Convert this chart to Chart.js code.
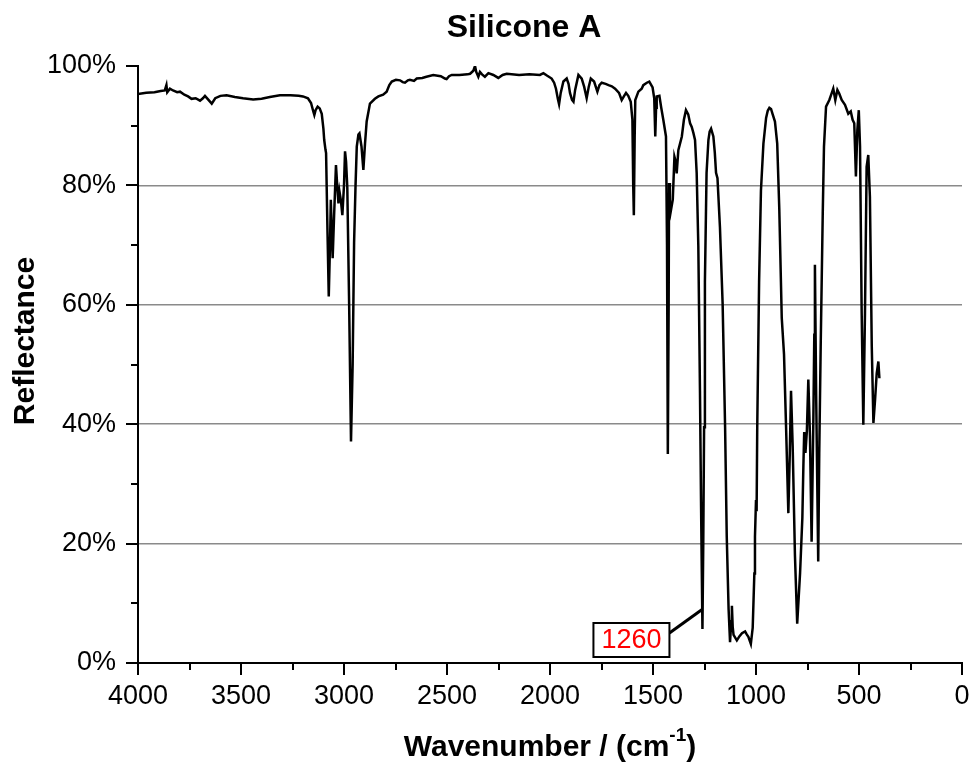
<!DOCTYPE html>
<html>
<head>
    <meta charset="UTF-8">
    <title>Silicone A</title>
    <script src="https://cdn.jsdelivr.net/npm/chart.js"></script>
    <style>
        body {
            margin: 0;
            padding: 0;
            background: #fff;
        }
        .container {
            width: 973px;
            height: 769px;
            position: relative;
        }
    </style>
</head>
<body>
    <div class="container">
        <canvas id="spectrum"></canvas>
    </div>

    <script>
        // Spectrum (wavenumber in cm-1, reflectance in %)
        const wavenumbers = [
            4000, 3960, 3920, 3890, 3870, 3862, 3858, 3845, 3830, 3810, 3796, 3775, 3757, 3740, 3720,
            3699, 3685, 3675, 3660, 3642, 3625, 3600, 3570, 3530, 3490, 3441, 3400, 3360, 3311, 3260,
            3220, 3199, 3175, 3160, 3150, 3144, 3138, 3128, 3118, 3108, 3100, 3096, 3090, 3087, 3080,
            3074, 3068, 3064, 3060, 3055, 3048, 3039, 3033, 3027, 3022, 3015, 3008, 3000, 2995, 2990,
            2984, 2975, 2966, 2958, 2951, 2944, 2938, 2930, 2925, 2915, 2906, 2898, 2890, 2874, 2850,
            2833, 2810, 2793, 2780, 2768, 2748, 2728, 2715, 2704, 2690, 2680, 2660, 2647, 2620, 2600,
            2567, 2530, 2510, 2502, 2490, 2477, 2440, 2400, 2388, 2372, 2364, 2358, 2348, 2340, 2330,
            2316, 2299, 2275, 2251, 2230, 2210, 2150, 2100, 2049, 2032, 2015, 1992, 1980, 1971, 1962,
            1956, 1948, 1935, 1919, 1910, 1903, 1893, 1886, 1878, 1862, 1846, 1834, 1822, 1812, 1802,
            1786, 1770, 1760, 1749, 1730, 1716, 1700, 1684, 1665, 1652, 1640, 1631, 1620, 1608, 1600,
            1596, 1593, 1589, 1586, 1571, 1555, 1547, 1530, 1518, 1502, 1494, 1489, 1485, 1482, 1469,
            1460, 1450, 1437, 1432, 1428, 1424, 1422, 1418, 1414, 1404, 1396, 1390, 1385, 1377, 1360,
            1350, 1340, 1329, 1320, 1312, 1304, 1296, 1288, 1280, 1272, 1267, 1260, 1256, 1252, 1248,
            1240, 1231, 1225, 1218, 1207, 1200, 1194, 1187, 1175, 1162, 1150, 1142, 1133, 1126, 1120,
            1117, 1113, 1109, 1093, 1080, 1068, 1053, 1045, 1037, 1025, 1016, 1008, 1005, 1000, 997,
            994, 985, 976, 964, 951, 943, 935, 927, 919, 908, 897, 887, 875, 864, 854,
            843, 836, 830, 822, 811, 800, 786, 775, 770, 766, 760, 753, 746, 738, 730,
            722, 717, 714, 708, 698, 693, 686, 676, 670, 660, 644, 635, 625, 615, 605,
            596, 584, 568, 552, 540, 531, 523, 515, 508, 501, 495, 487, 479, 471, 463,
            455, 447, 438, 430, 422, 414, 406, 401
        ];
        const reflectance = [
            95.3, 95.5, 95.6, 95.8, 95.9, 96.8, 95.6, 96.2, 95.9, 95.6, 95.7, 95.2, 94.9, 94.5, 94.6,
            94.2, 94.6, 95.0, 94.4, 93.7, 94.6, 95.0, 95.1, 94.8, 94.6, 94.4, 94.5, 94.8, 95.1, 95.1,
            95.0, 94.9, 94.6, 93.8, 92.5, 91.8, 92.6, 93.2, 92.9, 92.0, 89.5, 87.6, 86.0, 85.4, 72.0,
            61.4, 70.0, 77.6, 73.0, 67.8, 75.0, 83.4, 80.0, 77.0, 79.0, 77.5, 75.0, 80.0, 85.7, 84.0,
            79.7, 60.0, 37.1, 50.0, 70.4, 80.0, 86.5, 88.5, 88.7, 86.5, 82.6, 87.0, 90.7, 93.7, 94.5,
            94.9, 95.2, 95.7, 96.8, 97.4, 97.7, 97.6, 97.3, 97.2, 97.6, 97.7, 97.5, 97.9, 98.0, 98.2,
            98.5, 98.3, 97.9, 97.8, 98.3, 98.5, 98.5, 98.6, 98.7, 99.2, 100.0, 99.0, 98.2, 99.0, 98.6,
            98.2, 98.8, 98.5, 98.0, 98.5, 98.7, 98.5, 98.6, 98.5, 98.8, 98.4, 97.9, 97.2, 96.2, 94.5,
            93.6, 95.5, 97.4, 97.9, 97.0, 95.5, 94.3, 94.0, 96.0, 98.5, 97.9, 96.5, 94.6, 96.5, 97.9,
            97.4, 95.7, 96.8, 97.2, 97.0, 96.8, 96.6, 96.2, 95.5, 94.3, 95.0, 95.5, 95.0, 94.0, 91.0,
            80.0, 75.0, 88.0, 94.3, 95.7, 96.2, 96.8, 97.2, 97.4, 96.4, 94.6, 88.2, 93.0, 94.9, 95.0,
            93.0, 91.0, 88.2, 70.0, 35.0, 60.0, 80.4, 77.0, 75.6, 77.6, 84.8, 84.0, 82.0, 85.9, 88.2,
            91.0, 92.6, 91.9, 90.4, 89.8, 88.8, 87.6, 82.1, 69.9, 45.6, 27.3, 5.7, 20.0, 39.5, 63.8,
            82.1, 87.6, 89.0, 89.5, 88.2, 85.5, 82.1, 81.2, 73.0, 60.2, 39.5, 21.2, 9.0, 3.5, 7.0,
            9.6, 6.0, 4.7, 3.8, 4.5, 5.0, 5.3, 4.8, 4.4, 3.2, 5.9, 15.0, 21.2, 27.3, 25.4,
            39.5, 63.8, 79.1, 87.0, 91.3, 92.5, 93.0, 92.8, 91.9, 90.7, 87.0, 76.1, 57.8, 51.7, 39.5,
            25.1, 35.0, 45.6, 36.4, 18.1, 6.6, 15.1, 24.3, 33.0, 38.7, 35.2, 38.9, 47.5, 38.0, 20.3,
            39.5, 55.0, 66.7, 45.0, 17.0, 35.0, 53.0, 75.3, 86.5, 93.2, 94.3, 95.2, 96.2, 94.3, 96.0,
            95.4, 94.3, 93.5, 92.0, 92.4, 91.0, 90.4, 81.5, 89.3, 92.6, 86.5, 58.6, 39.9, 58.6, 83.1,
            85.1, 78.1, 53.0, 40.2, 44.1, 48.5, 50.5, 47.7
        ];
        // marked peak and where its call-out points on the curve
        const peakWavenumbers = [1260];
        const peakPointerValues = [9];

        const points = wavenumbers.map((w, i) => ({ x: w, y: reflectance[i] }));

        const FONT = '"Liberation Sans", Arial, Helvetica, sans-serif';

        // outward major/minor tick marks, axis titles, title and call-out
        const decorPlugin = {
            id: 'decor',
            afterDraw(chart) {
                const c = chart.ctx;
                const xs = chart.scales.x;
                const ys = chart.scales.y;
                const area = chart.chartArea;
                c.save();
                c.strokeStyle = '#000';
                c.lineWidth = 2;
                c.beginPath();
                for (let v = 0; v <= 4000; v += 250) {
                    const px = Math.round(xs.getPixelForValue(v));
                    const len = v % 500 === 0 ? 12 : 7;
                    c.moveTo(px, area.bottom);
                    c.lineTo(px, area.bottom + len);
                }
                for (let v = 0; v <= 100; v += 10) {
                    const py = Math.round(ys.getPixelForValue(v));
                    const len = v % 20 === 0 ? 12 : 7;
                    c.moveTo(area.left, py);
                    c.lineTo(area.left - len, py);
                }
                c.stroke();

                // title
                c.fillStyle = '#000';
                c.textAlign = 'center';
                c.textBaseline = 'middle';
                c.font = 'bold 32px ' + FONT;
                c.fillText('Silicone A', 524, 28);

                // y title
                c.save();
                c.translate(26, 341);
                c.rotate(-Math.PI / 2);
                c.font = 'bold 30px ' + FONT;
                c.fillText('Reflectance', 0, 0);
                c.restore();

                // x title with superscript
                const main = 'Wavenumber / (cm';
                const sup = '-1';
                const end = ')';
                c.font = 'bold 30px ' + FONT;
                const wMain = c.measureText(main).width;
                const wEnd = c.measureText(end).width;
                c.font = 'bold 19px ' + FONT;
                const wSup = c.measureText(sup).width;
                let tx = 550 - (wMain + wSup + wEnd) / 2;
                c.textAlign = 'left';
                c.font = 'bold 30px ' + FONT;
                c.fillText(main, tx, 748);
                tx += wMain;
                c.font = 'bold 19px ' + FONT;
                c.fillText(sup, tx, 736);
                tx += wSup;
                c.font = 'bold 30px ' + FONT;
                c.fillText(end, tx, 748);

                // peak call-out
                peakWavenumbers.forEach((w, i) => {
                    const px = xs.getPixelForValue(w);
                    const py = ys.getPixelForValue(peakPointerValues[i]);
                    const bx = px - 33 - 76;
                    const by = 623;
                    c.lineWidth = 3;
                    c.beginPath();
                    c.moveTo(px, py);
                    c.lineTo(bx + 76, by + 10);
                    c.stroke();
                    c.lineWidth = 2;
                    c.fillStyle = '#fff';
                    c.fillRect(bx, by, 76, 34);
                    c.strokeRect(bx, by, 76, 34);
                    c.fillStyle = '#ff0000';
                    c.textAlign = 'center';
                    c.textBaseline = 'middle';
                    c.font = '27px ' + FONT;
                    c.fillText(String(w), bx + 38, by + 18);
                });
                c.restore();
            }
        };

        const ctx = document.getElementById('spectrum').getContext('2d');
        const chart = new Chart(ctx, {
            type: 'line',
            data: {
                datasets: [{
                    data: points,
                    borderColor: '#000',
                    borderWidth: 2.5,
                    pointRadius: 0,
                    tension: 0,
                    fill: false
                }]
            },
            options: {
                responsive: true,
                maintainAspectRatio: false,
                animation: false,
                layout: {
                    padding: { top: 66, right: 11, left: 0, bottom: 0 }
                },
                plugins: {
                    legend: { display: false },
                    tooltip: { enabled: false }
                },
                scales: {
                    x: {
                        type: 'linear',
                        reverse: true,
                        min: 0,
                        max: 4000,
                        afterFit: (scale) => {
                            scale.height = 106;
                            scale.paddingLeft = 0;
                            scale.paddingRight = 0;
                        },
                        border: { display: true, color: '#000', width: 2 },
                        grid: { display: false, drawTicks: false },
                        ticks: {
                            stepSize: 500,
                            padding: 17,
                            color: '#000',
                            maxRotation: 0,
                            font: { family: FONT, size: 27 },
                            callback: (v) => String(v)
                        }
                    },
                    y: {
                        min: 0,
                        max: 100,
                        afterFit: (scale) => {
                            scale.width = 138;
                            scale.paddingTop = 0;
                            scale.paddingBottom = 0;
                        },
                        border: { display: true, color: '#000', width: 2 },
                        grid: {
                            drawTicks: false,
                            lineWidth: 1.5,
                            color: (c) => (c.tick && c.tick.value > 0 && c.tick.value < 100) ? '#8a8a8a' : 'rgba(0,0,0,0)'
                        },
                        ticks: {
                            stepSize: 20,
                            padding: 22,
                            color: '#000',
                            font: { family: FONT, size: 27 },
                            callback: (v) => v + '%'
                        }
                    }
                }
            },
            plugins: [decorPlugin]
        });
    </script>
</body>
</html>
